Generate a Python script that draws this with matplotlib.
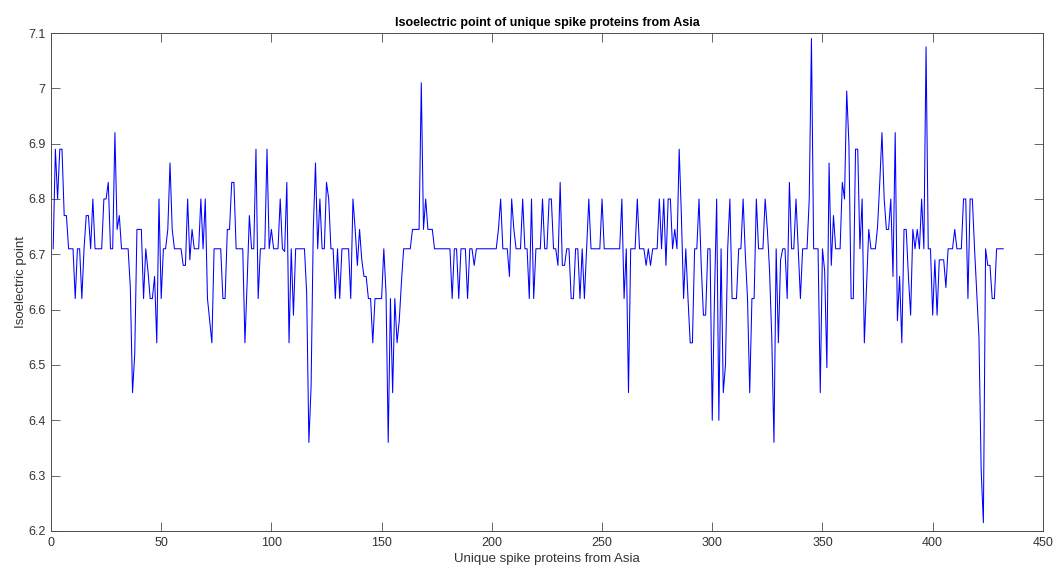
import matplotlib
matplotlib.use("Agg")
import matplotlib.pyplot as plt
import numpy as np
from matplotlib.ticker import FuncFormatter

# isoelectric point per unique spike protein (index 1..432)
iep = [
    6.71, 6.89, 6.80, 6.89, 6.89, 6.77, 6.77, 6.71, 6.71, 6.71,
    6.62, 6.71, 6.71, 6.62, 6.71, 6.77, 6.77, 6.71, 6.80, 6.71,
    6.71, 6.71, 6.71, 6.80, 6.80, 6.83, 6.71, 6.71, 6.92, 6.745,
    6.77, 6.71, 6.71, 6.71, 6.71, 6.64, 6.45, 6.52, 6.745, 6.745,
    6.745, 6.62, 6.71, 6.67, 6.62, 6.62, 6.66, 6.54, 6.80, 6.62,
    6.71, 6.71, 6.745, 6.865, 6.745, 6.71, 6.71, 6.71, 6.71, 6.68,
    6.68, 6.80, 6.69, 6.745, 6.71, 6.71, 6.71, 6.80, 6.71, 6.80,
    6.62, 6.58, 6.54, 6.71, 6.71, 6.71, 6.71, 6.62, 6.62, 6.745,
    6.745, 6.83, 6.83, 6.71, 6.71, 6.71, 6.71, 6.54, 6.65, 6.77,
    6.71, 6.71, 6.89, 6.62, 6.71, 6.71, 6.71, 6.89, 6.71, 6.745,
    6.71, 6.71, 6.71, 6.80, 6.71, 6.705, 6.83, 6.54, 6.71, 6.59,
    6.71, 6.71, 6.71, 6.71, 6.71, 6.63, 6.36, 6.46, 6.745, 6.865,
    6.71, 6.80, 6.71, 6.71, 6.83, 6.80, 6.71, 6.71, 6.62, 6.71,
    6.62, 6.71, 6.71, 6.71, 6.71, 6.62, 6.80, 6.745, 6.68, 6.745,
    6.69, 6.66, 6.66, 6.62, 6.62, 6.54, 6.62, 6.62, 6.62, 6.62,
    6.71, 6.63, 6.36, 6.62, 6.45, 6.62, 6.54, 6.58, 6.65, 6.71,
    6.71, 6.71, 6.71, 6.745, 6.745, 6.745, 6.745, 7.01, 6.745, 6.80,
    6.745, 6.745, 6.745, 6.71, 6.71, 6.71, 6.71, 6.71, 6.71, 6.71,
    6.71, 6.62, 6.71, 6.71, 6.62, 6.71, 6.71, 6.71, 6.62, 6.71,
    6.71, 6.68, 6.71, 6.71, 6.71, 6.71, 6.71, 6.71, 6.71, 6.71,
    6.71, 6.71, 6.745, 6.80, 6.71, 6.71, 6.71, 6.66, 6.80, 6.745,
    6.71, 6.71, 6.71, 6.80, 6.71, 6.71, 6.62, 6.80, 6.62, 6.71,
    6.71, 6.71, 6.80, 6.71, 6.71, 6.80, 6.80, 6.71, 6.71, 6.68,
    6.83, 6.68, 6.68, 6.71, 6.71, 6.62, 6.62, 6.71, 6.71, 6.62,
    6.71, 6.62, 6.71, 6.80, 6.71, 6.71, 6.71, 6.71, 6.71, 6.80,
    6.71, 6.71, 6.71, 6.71, 6.71, 6.71, 6.71, 6.71, 6.80, 6.62,
    6.71, 6.45, 6.71, 6.71, 6.71, 6.80, 6.71, 6.71, 6.71, 6.68,
    6.71, 6.68, 6.71, 6.71, 6.71, 6.80, 6.71, 6.80, 6.68, 6.80,
    6.80, 6.71, 6.745, 6.71, 6.89, 6.77, 6.62, 6.71, 6.62, 6.54,
    6.54, 6.71, 6.71, 6.80, 6.68, 6.59, 6.59, 6.71, 6.71, 6.40,
    6.62, 6.80, 6.40, 6.71, 6.45, 6.50, 6.71, 6.80, 6.62, 6.62,
    6.62, 6.71, 6.71, 6.80, 6.70, 6.62, 6.45, 6.62, 6.62, 6.80,
    6.71, 6.71, 6.71, 6.80, 6.745, 6.67, 6.55, 6.36, 6.71, 6.54,
    6.69, 6.71, 6.71, 6.62, 6.83, 6.71, 6.71, 6.80, 6.71, 6.62,
    6.71, 6.71, 6.71, 6.80, 7.09, 6.71, 6.71, 6.71, 6.45, 6.71,
    6.67, 6.495, 6.865, 6.68, 6.77, 6.71, 6.71, 6.71, 6.83, 6.80,
    6.995, 6.90, 6.62, 6.62, 6.89, 6.89, 6.71, 6.80, 6.54, 6.64,
    6.745, 6.71, 6.71, 6.71, 6.75, 6.83, 6.92, 6.80, 6.745, 6.745,
    6.80, 6.66, 6.92, 6.58, 6.66, 6.54, 6.745, 6.745, 6.66, 6.59,
    6.745, 6.71, 6.745, 6.71, 6.80, 6.71, 7.075, 6.71, 6.71, 6.59,
    6.69, 6.59, 6.69, 6.69, 6.69, 6.64, 6.71, 6.71, 6.71, 6.745,
    6.71, 6.71, 6.71, 6.80, 6.80, 6.62, 6.80, 6.80, 6.71, 6.63,
    6.55, 6.31, 6.215, 6.71, 6.68, 6.68, 6.62, 6.62, 6.71, 6.71,
    6.71, 6.71,
]
x_ticks = [0, 50, 100, 150, 200, 250, 300, 350, 400, 450]
y_ticks = [6.2, 6.3, 6.4, 6.5, 6.6, 6.7, 6.8, 6.9, 7.0, 7.1]

plt.rcParams['font.family'] = ['Liberation Sans', 'DejaVu Sans']

fig = plt.figure(figsize=(10.62, 5.74), dpi=100)
ax = fig.add_axes([0.048, 0.075, 0.934, 0.8675])

idx = np.arange(1, len(iep) + 1)
ax.plot(idx, iep, color=(0, 0, 1), linewidth=0.75)

ax.set_xlim(0, 450)
ax.set_ylim(6.2, 7.1)
ax.set_xticks(x_ticks)
ax.set_yticks(y_ticks)
ax.yaxis.set_major_formatter(FuncFormatter(lambda v, p: f"{v:g}"))

grey = (0.3, 0.3, 0.3)
for s in ax.spines.values():
    s.set_color(grey)
    s.set_linewidth(0.7)
ax.tick_params(direction='in', top=True, right=True, length=6.5, width=0.6,
               colors=grey, labelcolor=(0.2, 0.2, 0.2), labelsize=9, pad=4)

ax.set_title('Isoelectric point of unique spike proteins from Asia',
             fontsize=9, fontweight='bold', color='black', pad=5)
ax.set_xlabel('Unique spike proteins from Asia', fontsize=9.5,
              color=(0.2, 0.2, 0.2), labelpad=3)
ax.set_ylabel('Isoelectric point', fontsize=9.5, color=(0.2, 0.2, 0.2), labelpad=1)

fig.savefig('out.png', dpi=100, facecolor='white')
